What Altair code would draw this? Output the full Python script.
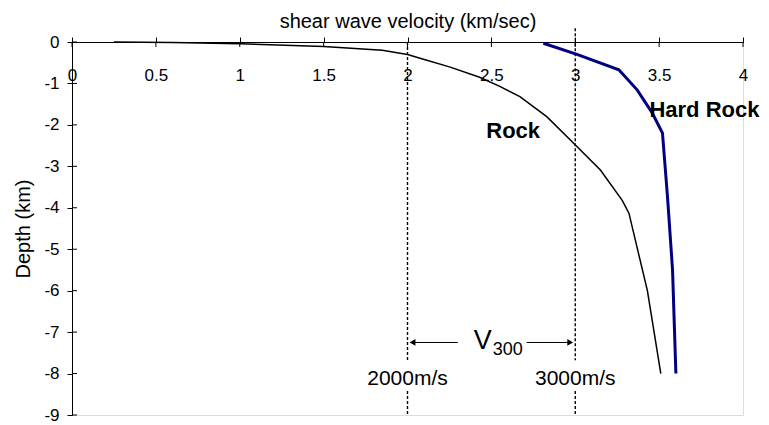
import altair as alt
import pandas as pd

FONT = "Liberation Sans"

# Rock profile (km/s vs depth km)
rock_v = [0.25, 0.6, 1.0, 1.5, 1.85, 2.0, 2.1, 2.25, 2.43, 2.55, 2.67, 2.83, 2.98, 3.15, 3.28, 3.32, 3.43, 3.51]
rock_d = [0.0, -0.01, -0.04, -0.11, -0.2, -0.3, -0.42, -0.6, -0.85, -1.07, -1.32, -1.8, -2.4, -3.09, -3.82, -4.13, -6.0, -8.0]

# Hard rock profile
hard_v = [2.81, 3.01, 3.26, 3.37, 3.46, 3.52, 3.55, 3.58, 3.60]
hard_d = [-0.03, -0.3, -0.67, -1.16, -1.72, -2.2, -3.74, -5.5, -8.0]

x_ticks = [0, 0.5, 1, 1.5, 2, 2.5, 3, 3.5, 4]
y_ticks = [0, -1, -2, -3, -4, -5, -6, -7, -8, -9]

# Reference velocity lines (segments broken around labels)
ref_x = [2, 2, 3, 3]
ref_top = [0.0, -8.42, 0.33, -8.42]
ref_bot = [-7.68, -9.0, -7.68, -9.0]

# V300 arrows
arrow_from = [2.30, 2.71]
arrow_to = [2.03, 2.97]
arrow_head = [2.03, 2.97]
arrow_shape = ["triangle-left", "triangle-right"]
arrow_depth = -7.25

# Labels
curve_labels = ["Rock", "Hard Rock"]
curve_label_v = [2.63, 3.77]
curve_label_d = [-2.15, -1.65]

speed_labels = ["2000m/s", "3000m/s"]
speed_label_v = [2.0, 3.0]
speed_label_d = [-8.14, -8.14]

xs = alt.Scale(domain=[0, 4], nice=False, zero=False)
ys = alt.Scale(domain=[-9, 0], nice=False, zero=False)

rock_df = pd.DataFrame({"v": rock_v, "d": rock_d, "i": range(len(rock_v))})
hard_df = pd.DataFrame({"v": hard_v, "d": hard_d, "i": range(len(hard_v))})

base_axes = alt.Chart(pd.DataFrame({"v": [0, 4], "d": [-9, 0]})).mark_point(opacity=0).encode(
    x=alt.X("v:Q", scale=xs, axis=alt.Axis(
        orient="top", values=x_ticks, title="shear wave velocity (km/sec)",
        labelExpr="toString(datum.value)", labelBaseline="middle", labelPadding=-38,
        labelFontSize=17, labelColor="black", labelFont=FONT, labelFlush=False,
        titleFontSize=20, titleFont=FONT, titleFontWeight="normal", titleColor="black",
        titleY=-15, titleBaseline="alphabetic",
        tickSize=5, tickColor="black", domainColor="black", grid=False, labelOverlap=False)),
    y=alt.Y("d:Q", scale=ys, axis=alt.Axis(
        orient="left", values=y_ticks, title="Depth (km)",
        labelExpr="toString(datum.value)", labelPadding=8,
        labelFontSize=17, labelColor="black", labelFont=FONT,
        titleFontSize=20, titleFont=FONT, titleFontWeight="normal", titleColor="black",
        titlePadding=10,
        tickSize=5, tickColor="black", domainColor="black", grid=False, labelOverlap=False)),
)

xtick_in = alt.Chart(pd.DataFrame({"v": x_ticks})).mark_rule(color="black", strokeWidth=1).encode(
    x=alt.X("v:Q", scale=xs), y=alt.value(0), y2=alt.value(5))
ytick_in = alt.Chart(pd.DataFrame({"d": y_ticks})).mark_rule(color="black", strokeWidth=1).encode(
    y=alt.Y("d:Q", scale=ys), x=alt.value(0), x2=alt.value(5))

ref_lines = alt.Chart(pd.DataFrame({"v": ref_x, "t": ref_top, "b": ref_bot})).mark_rule(
    color="black", strokeWidth=1.4, strokeDash=[3, 2]).encode(
    x=alt.X("v:Q", scale=xs), y=alt.Y("t:Q", scale=ys), y2="b:Q")

rock_line = alt.Chart(rock_df).mark_line(color="black", strokeWidth=1.5).encode(
    x=alt.X("v:Q", scale=xs), y=alt.Y("d:Q", scale=ys), order="i:Q")
hard_line = alt.Chart(hard_df).mark_line(color="#000080", strokeWidth=3).encode(
    x=alt.X("v:Q", scale=xs), y=alt.Y("d:Q", scale=ys), order="i:Q")

arrow_df = pd.DataFrame({"a": arrow_from, "b": arrow_to, "h": arrow_head, "s": arrow_shape,
                         "d": [arrow_depth] * 2})
arrow_lines = alt.Chart(arrow_df).mark_rule(color="black", strokeWidth=1).encode(
    x=alt.X("a:Q", scale=xs), x2="b:Q", y=alt.Y("d:Q", scale=ys))
arrow_heads = alt.Chart(arrow_df).mark_point(filled=True, color="black", size=45, opacity=1).encode(
    x=alt.X("h:Q", scale=xs), y=alt.Y("d:Q", scale=ys),
    shape=alt.Shape("s:N", scale=alt.Scale(domain=arrow_shape, range=arrow_shape), legend=None))

v_text = alt.Chart(pd.DataFrame({"t": ["V"], "v": [2.448], "d": [-7.22]})).mark_text(
    font=FONT, fontSize=27, color="black", align="center", baseline="middle").encode(
    x=alt.X("v:Q", scale=xs), y=alt.Y("d:Q", scale=ys), text="t:N")
sub_text = alt.Chart(pd.DataFrame({"t": ["300"], "v": [2.597], "d": [-7.43]})).mark_text(
    font=FONT, fontSize=18, color="black", align="center", baseline="middle").encode(
    x=alt.X("v:Q", scale=xs), y=alt.Y("d:Q", scale=ys), text="t:N")

curve_text = alt.Chart(pd.DataFrame({"t": curve_labels, "v": curve_label_v, "d": curve_label_d})).mark_text(
    font=FONT, fontSize=22, fontWeight="bold", color="black", align="center", baseline="middle").encode(
    x=alt.X("v:Q", scale=xs), y=alt.Y("d:Q", scale=ys), text="t:N")

speed_text = alt.Chart(pd.DataFrame({"t": speed_labels, "v": speed_label_v, "d": speed_label_d})).mark_text(
    font=FONT, fontSize=21, color="black", align="center", baseline="middle").encode(
    x=alt.X("v:Q", scale=xs), y=alt.Y("d:Q", scale=ys), text="t:N")

chart = alt.layer(
    base_axes, ref_lines, xtick_in, ytick_in, rock_line, hard_line,
    arrow_lines, arrow_heads, v_text, sub_text, curve_text, speed_text
).properties(
    width=671, height=373, autosize="none",
    padding={"left": 64, "top": 34, "right": 18, "bottom": 9},
).configure_view(stroke="#808080", strokeWidth=1.2).configure(background="white")

chart.save("out.html", embed_options={"renderer": "svg", "actions": False})
